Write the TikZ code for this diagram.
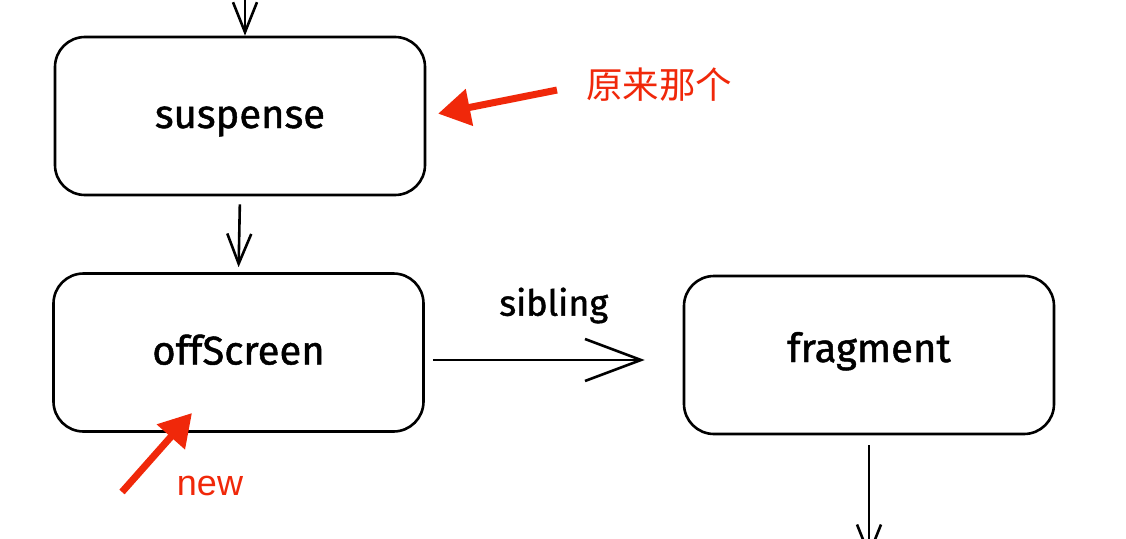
\documentclass[tikz,border=0pt]{standalone}
\usepackage{fontspec}
\setmainfont{Fira Sans}
\newfontfamily\handfont{Fira Sans}[FakeBold=1.2]
\newfontfamily\cjkfont{Noto Sans CJK SC}
\newfontfamily\notefont{Liberation Sans}
\usetikzlibrary{arrows.meta}

\definecolor{notered}{RGB}{240,40,10}

\tikzset{
    state/.style={draw, line width=2.6pt, rounded corners=30pt,
        minimum width=370pt, minimum height=158pt,
        text height=24pt, text depth=0pt,
        font=\handfont\fontsize{40}{48}\selectfont},
    flow/.style={line width=2.6pt,
        -{Straight Barb[length=30pt, width=24pt, line width=2.6pt]}},
    note/.style={text=notered, font=\fontsize{36}{42}\selectfont},
    pointer/.style={notered, line width=7pt,
        -{Triangle[length=32pt, width=36pt]}},
}

\begin{document}
\begin{tikzpicture}[x=1pt, y=-1pt]
        \useasboundingbox (0,0) rectangle (1126,538);
        \clip (0,0) rectangle (1126,538);

        % Stati
        \node[state] (susp) at (240,116) {suspense};
        \node[state] (offs) at (238.5,352.5) {offScreen};
        \node[state, text height=14pt] (frag) at (869,355) {fragment};

        % Estremi liberi
        \coordinate (top) at (245,-5);
        \coordinate (bot) at (869,558);

        % Collegamenti
        \draw[flow] (top) -- (top |- susp.north);
        \draw[flow, shorten <=8pt, shorten >=5pt] (susp.south) -- (offs.north);
        \draw[flow, shorten <=8pt, shorten >=38pt, -{Straight Barb[length=56pt, width=42pt, line width=2.6pt]}]
            (offs.east |- 0,360) -- (frag.west |- 0,360)
            node[midway, above=32pt, font=\handfont\fontsize{36}{44}\selectfont] (sib) {sibling};
        \draw[flow, shorten <=10pt] (frag.south) -- (bot);

        % Annotazioni
        \node[note, font=\cjkfont\fontsize{36.5}{42}\selectfont] (orig) at (659,85) {原来那个};
        \draw[pointer, shorten <=26pt, shorten >=12pt] (orig.west) -- (susp.east);

        \node[note, font=\notefont\fontsize{36}{42}\selectfont] (newtag) at (210,486) {new};
        \coordinate (newtail) at (122,492);
        \coordinate (newtip) at (192,413);
        \draw[pointer] (newtail) -- (newtip);
    \end{tikzpicture}
\end{document}
